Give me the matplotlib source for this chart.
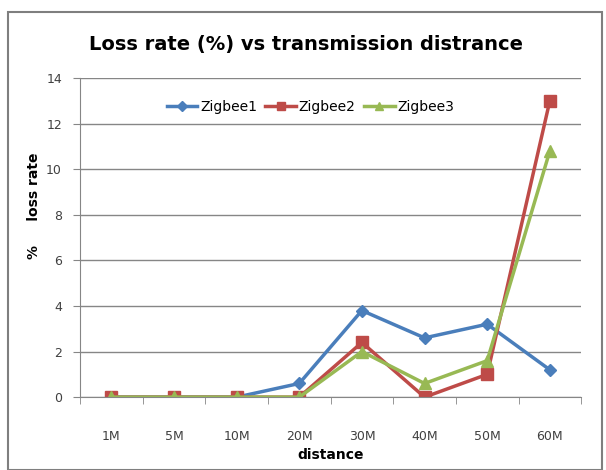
import matplotlib
import matplotlib.pyplot as plt
import numpy as np

matplotlib.use('Agg')

distances = ["1M", "5M", "10M", "20M", "30M", "40M", "50M", "60M"]
zigbee1 = [0, 0, 0, 0.6, 3.8, 2.6, 3.2, 1.2]
zigbee2 = [0, 0, 0, 0, 2.4, 0, 1.0, 13.0]
zigbee3 = [0, 0, 0, 0, 2.0, 0.6, 1.6, 10.8]

fig = plt.figure(figsize=(6.06, 4.70), dpi=100)
ax = fig.add_axes([0.132, 0.155, 0.827, 0.679])

x = np.arange(len(distances))
ax.plot(x, zigbee1, color='#4A7EBB', lw=2.5, marker='D', ms=6, label='Zigbee1')
ax.plot(x, zigbee2, color='#BE4B48', lw=2.5, marker='s', ms=8, label='Zigbee2')
ax.plot(x, zigbee3, color='#98B954', lw=2.5, marker='^', ms=8, label='Zigbee3')

ax.set_xlim(-0.5, len(distances) - 0.5)
ax.set_ylim(0, 14)
ax.set_yticks(range(0, 15, 2))
ax.yaxis.grid(True, color='#868686', lw=1)
ax.set_axisbelow(True)

# category labels centred, tick marks between categories
ax.set_xticks(x)
ax.set_xticklabels(distances)
ax.tick_params(axis='x', length=0, pad=24, labelsize=9, labelcolor='#404040')
ax.set_xticks(np.arange(-0.5, len(distances)), minor=True)
ax.tick_params(axis='x', which='minor', length=5, color='#868686')
ax.tick_params(axis='y', length=5, color='#868686', labelsize=9, labelcolor='#404040', pad=8)

for s in ['top', 'right']:
    ax.spines[s].set_visible(False)
for s in ['left', 'bottom']:
    ax.spines[s].set_color('#868686')

ax.set_xlabel('distance', fontsize=10, fontweight='bold', labelpad=3)
ax.set_ylabel('%     loss rate', fontsize=10, fontweight='bold')
ax.yaxis.set_label_coords(-0.078, 0.6)

fig.suptitle('Loss rate (%) vs transmission distrance', fontsize=14,
             fontweight='bold', x=0.505, y=0.925)

ax.legend(loc='upper center', bbox_to_anchor=(0.46, 0.97), ncol=3, frameon=False,
          fontsize=10, handlelength=2.2, columnspacing=0.6, handletextpad=0.2,
          markerscale=0.8)

fig.patches.append(plt.Rectangle((0.014, 0.0), 0.98, 0.975, transform=fig.transFigure,
                                 fill=False, edgecolor='#7f7f7f', lw=1.5))

plt.savefig('out.png', dpi=100)
